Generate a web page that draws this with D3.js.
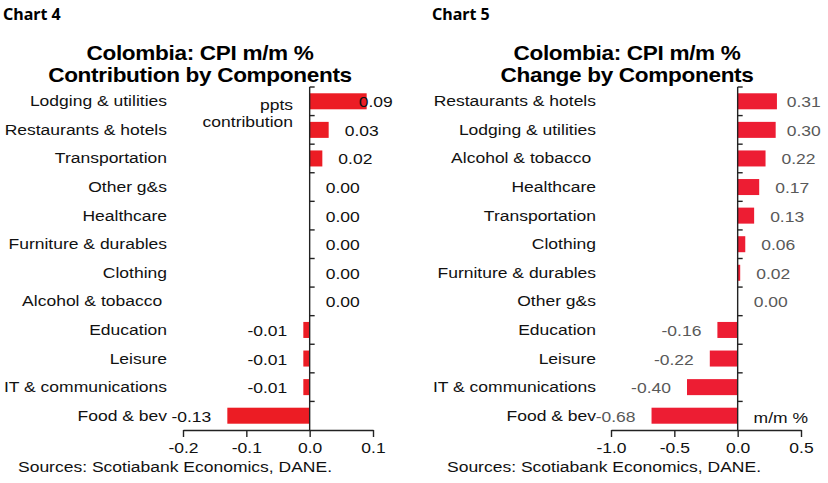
<!DOCTYPE html>
<html>
<head>
<meta charset="utf-8">
<script src="https://cdn.jsdelivr.net/npm/d3@7"></script>
<style>
  body { margin: 0; background: #fff; }
  text { font-family: "Liberation Sans", Arial, sans-serif; }
</style>
</head>
<body>
<div id="chart"></div>
<script>
// chart 4: contribution (ppts)
var cats4 = ["Lodging & utilities", "Restaurants & hotels", "Transportation", "Other g&s",
  "Healthcare", "Furniture & durables", "Clothing", "Alcohol & tobacco ",
  "Education", "Leisure", "IT & communications", "Food & bev"];
var vals4 = [0.09, 0.03, 0.02, 0.00, 0.00, 0.00, 0.00, 0.00, -0.01, -0.01, -0.01, -0.13];
var ticks4 = [-0.2, -0.1, 0.0, 0.1];

// chart 5: m/m % change
var cats5 = ["Restaurants & hotels", "Lodging & utilities", "Alcohol & tobacco ", "Healthcare",
  "Transportation", "Clothing", "Furniture & durables", "Other g&s",
  "Education", "Leisure", "IT & communications", "Food & bev"];
var vals5 = [0.31, 0.30, 0.22, 0.17, 0.13, 0.06, 0.02, 0.00, -0.16, -0.22, -0.40, -0.68];
var ticks5 = [-1.0, -0.5, 0.0, 0.5];

var svgWidth = 828;
var svgHeight = 483;
var SX = 1.13; // source text looks horizontally stretched

var svg = d3.select("#chart")
  .append("svg")
  .attr("width", svgWidth)
  .attr("height", svgHeight);

function place(sel, x, y) {
  return sel.attr("transform", `translate(${x},${y}) scale(${SX},1)`);
}

function drawChart(cfg) {
  var g = svg.append("g");

  // "Chart n" header
  g.append("text")
    .attr("x", cfg.headX)
    .attr("y", 20)
    .style("font-family", "'Noto Sans', 'Open Sans', sans-serif")
    .style("font-weight", "bold")
    .style("font-size", "16px")
    .attr("fill", "#000")
    .text(cfg.head);

  // title
  cfg.title.forEach((t, i) => {
    place(g.append("text"), cfg.titleX, 60 + i * 22)
      .attr("text-anchor", "middle")
      .style("font-weight", "bold")
      .style("font-size", "20px")
      .style("letter-spacing", "-0.3px")
      .attr("fill", "#000")
      .text(t);
  });

  var x = d3.scaleLinear()
    .domain(cfg.domain)
    .range(cfg.xRange);

  var y = d3.scaleBand()
    .domain(cfg.cats)
    .range([87, 430])
    .paddingInner(0.44)
    .paddingOuter(0.22);

  var data = cfg.cats.map((c, i) => ({ cat: c, val: cfg.vals[i] }));

  // bars
  g.selectAll(".bar")
    .data(data)
    .enter()
    .append("rect")
    .attr("x", d => x(Math.min(0, d.val)))
    .attr("y", d => y(d.cat))
    .attr("width", d => Math.abs(x(d.val) - x(0)))
    .attr("height", y.bandwidth())
    .attr("fill", cfg.barColor);

  // x axis
  var bottomAxis = d3.axisBottom(x)
    .tickValues(cfg.ticks)
    .tickSize(7)
    .tickSizeOuter(0)
    .tickFormat(d => d.toFixed(1));

  var xAxis = g.append("g")
    .attr("transform", "translate(0,430)")
    .call(bottomAxis);
  xAxis.select(".domain").attr("stroke", "#222").attr("stroke-width", 1.4);
  xAxis.selectAll(".tick line").attr("stroke", "#222").attr("stroke-width", 1.4);
  xAxis.selectAll(".tick text").each(function() {
    place(d3.select(this).attr("y", null).attr("dy", null), 0, 23)
      .style("font-size", "15.5px")
      .attr("fill", "#111");
  });

  // category axis at zero
  var x0 = x(0);
  g.append("line")
    .attr("x1", x0).attr("x2", x0)
    .attr("y1", 87).attr("y2", 430)
    .attr("stroke", "#222").attr("stroke-width", 1.4);

  var edges = cfg.cats.map(c => y(c) - y.step() * y.paddingInner() / 2);
  g.selectAll(".ytick")
    .data(edges)
    .enter()
    .append("line")
    .attr("x1", x0).attr("x2", x0 + 5)
    .attr("y1", d => d).attr("y2", d => d)
    .attr("stroke", "#222").attr("stroke-width", 1.4);

  // category labels
  g.selectAll(".cat")
    .data(data)
    .enter()
    .append("text")
    .each(function(d) {
      place(d3.select(this), cfg.catX, y(d.cat) + y.bandwidth() / 2 + 5);
    })
    .attr("text-anchor", "end")
    .style("white-space", "pre")
    .style("font-size", "15.5px")
    .attr("fill", "#111")
    .text(d => d.cat);

  // value labels
  g.selectAll(".val")
    .data(data)
    .enter()
    .append("text")
    .each(function(d) {
      var px;
      if (d.val < 0) px = x(d.val) - 16;
      else px = Math.min(x(d.val) + 16, x0 + 49);
      place(d3.select(this), px, y(d.cat) + y.bandwidth() / 2 + 6);
    })
    .attr("text-anchor", d => d.val < 0 ? "end" : "start")
    .style("font-size", "15.5px")
    .attr("fill", cfg.valColor)
    .text(d => d.val.toFixed(2));

  // unit note
  cfg.unit.forEach((u, i) => {
    place(g.append("text"), cfg.unitX, cfg.unitY + i * 17)
      .attr("text-anchor", "end")
      .style("font-size", "15.5px")
      .attr("fill", "#111")
      .text(u);
  });

  // sources
  place(g.append("text"), cfg.srcX, 472)
    .style("font-size", "15.5px")
    .attr("fill", "#111")
    .text("Sources: Scotiabank Economics, DANE.");
}

drawChart({
  head: "Chart 4", headX: 3,
  title: ["Colombia: CPI m/m %", "Contribution by Components"], titleX: 200,
  cats: cats4, vals: vals4, ticks: ticks4,
  domain: [-0.2, 0.1], xRange: [183, 373],
  catX: 167, barColor: "#ec1c24", valColor: "#111",
  unit: ["ppts", "contribution"], unitX: 293, unitY: 110,
  srcX: 18
});

drawChart({
  head: "Chart 5", headX: 432,
  title: ["Colombia: CPI m/m %", "Change by Components"], titleX: 627,
  cats: cats5, vals: vals5, ticks: ticks5,
  domain: [-1.0, 0.5], xRange: [611, 801],
  catX: 596, barColor: "#ed1d33", valColor: "#595959",
  unit: ["m/m %"], unitX: 808, unitY: 423,
  srcX: 447
});
</script>
</body>
</html>
